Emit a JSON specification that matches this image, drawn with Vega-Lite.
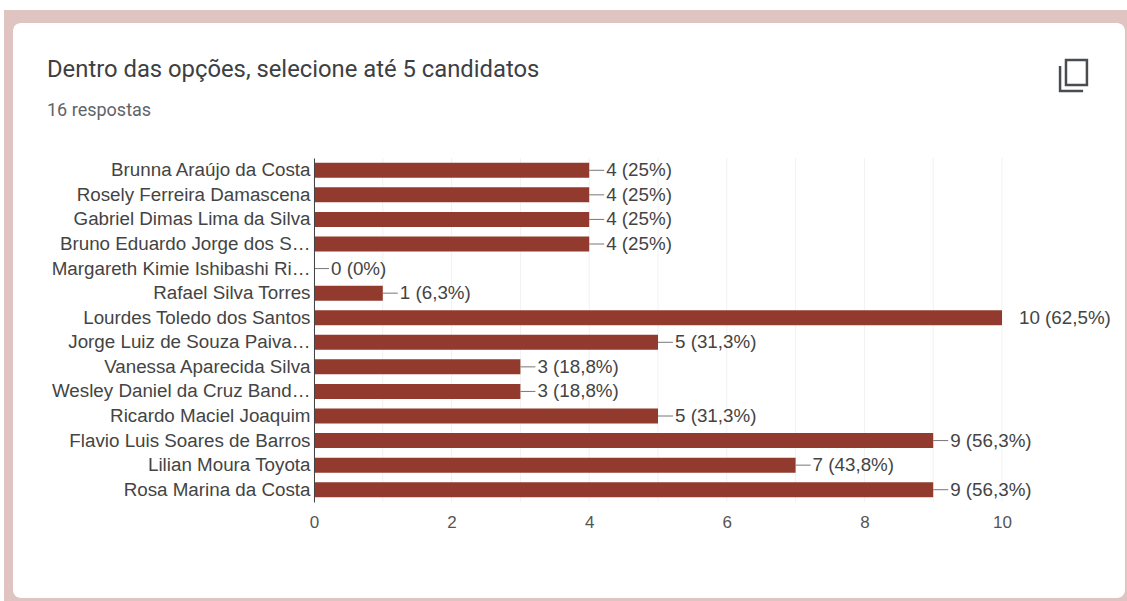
{
"$schema":"https://vega.github.io/schema/vega-lite/v6.json",
"width":688,"height":344,
"autosize":"none",
"padding":{"left":314,"top":158,"right":125,"bottom":99},
"background":"#ffffff",
"title":{"text":"Dentro das opções, selecione até 5 candidatos","subtitle":"16 respostas","anchor":"start","frame":"group","dx":-267,"offset":-110,"font":"Roboto","fontSize":23.8,"fontWeight":"normal","color":"#3c4043","subtitleFont":"Roboto","subtitleFontSize":18,"subtitleColor":"#5f6368","subtitlePadding":20},
"datasets":{
"candidatos":[
{"nome":"Brunna Araújo da Costa","votos":4,"rotulo":"4 (25%)"},
{"nome":"Rosely Ferreira Damascena","votos":4,"rotulo":"4 (25%)"},
{"nome":"Gabriel Dimas Lima da Silva","votos":4,"rotulo":"4 (25%)"},
{"nome":"Bruno Eduardo Jorge dos S…","votos":4,"rotulo":"4 (25%)"},
{"nome":"Margareth Kimie Ishibashi Ri…","votos":0,"rotulo":"0 (0%)"},
{"nome":"Rafael Silva Torres","votos":1,"rotulo":"1 (6,3%)"},
{"nome":"Lourdes Toledo dos Santos","votos":10,"rotulo":"10 (62,5%)"},
{"nome":"Jorge Luiz de Souza Paiva…","votos":5,"rotulo":"5 (31,3%)"},
{"nome":"Vanessa Aparecida Silva","votos":3,"rotulo":"3 (18,8%)"},
{"nome":"Wesley Daniel da Cruz Band…","votos":3,"rotulo":"3 (18,8%)"},
{"nome":"Ricardo Maciel Joaquim","votos":5,"rotulo":"5 (31,3%)"},
{"nome":"Flavio Luis Soares de Barros","votos":9,"rotulo":"9 (56,3%)"},
{"nome":"Lilian Moura Toyota","votos":7,"rotulo":"7 (43,8%)"},
{"nome":"Rosa Marina da Costa","votos":9,"rotulo":"9 (56,3%)"}
],
"grade":[{"g":0},{"g":1},{"g":2},{"g":3},{"g":4},{"g":5},{"g":6},{"g":7},{"g":8},{"g":9},{"g":10}]
},
"encoding":{},
"layer":[
{"data":{"values":[{"f":"moldura"}]},"mark":{"type":"rect","fill":"#dfc4c1","clip":false},
 "encoding":{"x":{"value":-310},"x2":{"value":815},"y":{"value":-148},"y2":{"value":445}}},
{"data":{"values":[{"f":"cartao"}]},"mark":{"type":"rect","fill":"#ffffff","cornerRadius":8,"clip":false},
 "encoding":{"x":{"value":-301},"x2":{"value":811},"y":{"value":-135},"y2":{"value":440}}},
{"data":{"values":[{"f":"copiar"}]},"mark":{"type":"point","filled":false,"stroke":"#4a4d50","strokeWidth":2.5,"opacity":1,"size":1024,"clip":false,
 "shape":"M-0.47 -1 L0.84 -1 L0.84 0.56 L-0.47 0.56 Z M-0.84 -0.62 L-0.84 0.94 L0.6 0.94"},
 "encoding":{"x":{"value":759.5},"y":{"value":-82}}},
{"data":{"name":"grade"},"mark":{"type":"rule","stroke":"#f1f1f1","strokeWidth":1},
 "encoding":{"x":{"field":"g","type":"quantitative","scale":{"domain":[0,10],"nice":false},
   "axis":{"values":[0,2,4,6,8,10],"format":"d","title":null,"grid":false,"ticks":false,"domain":false,"labelFont":"Liberation Sans","labelFontSize":17,"labelColor":"#555555","labelPadding":12,"zindex":1,"labelFlush":false}}}},
{"data":{"name":"candidatos"},"mark":{"type":"bar","size":15,"fill":"#933a2e"},
 "encoding":{"x":{"field":"votos","type":"quantitative"},
  "y":{"field":"nome","type":"nominal","sort":null,"scale":{"paddingInner":0,"paddingOuter":0},
   "axis":{"title":null,"ticks":false,"grid":false,"domain":true,"domainColor":"#444444","domainWidth":1,"labelFont":"Liberation Sans","labelFontSize":18.8,"labelColor":"#444444","labelPadding":4,"labelLimit":300,"zindex":1}}}},
{"data":{"name":"candidatos"},"mark":{"type":"rule","stroke":"#777777","strokeWidth":1,"x2Offset":15,"clip":true},
 "encoding":{"x":{"field":"votos","type":"quantitative"},"x2":{"field":"votos"},"y":{"field":"nome","type":"nominal","sort":null}}},
{"data":{"name":"candidatos"},"mark":{"type":"text","align":"left","baseline":"middle","dx":17,"font":"Liberation Sans","fontSize":18.8,"fill":"#444444"},
 "encoding":{"x":{"field":"votos","type":"quantitative"},"y":{"field":"nome","type":"nominal","sort":null},"text":{"field":"rotulo"}}}
]
}
